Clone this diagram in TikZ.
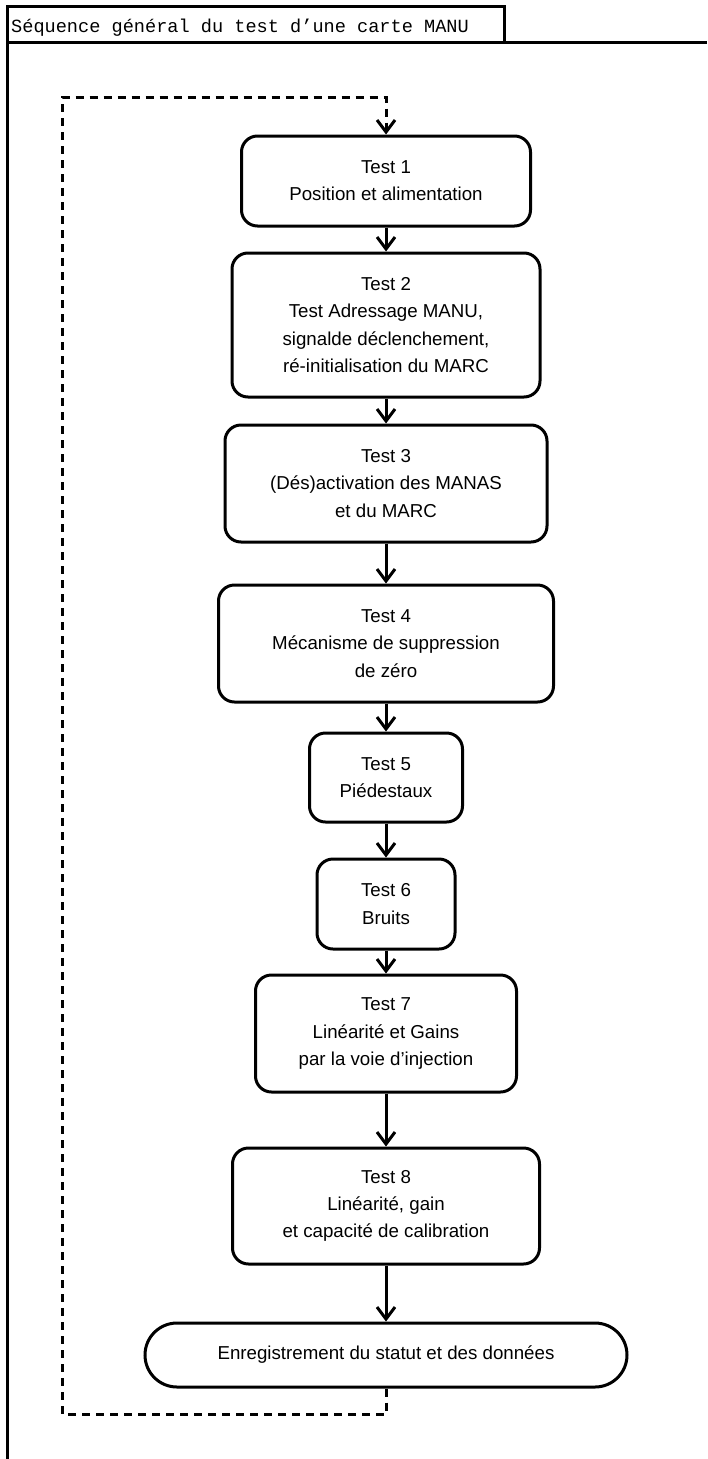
\documentclass[tikz,border=0pt]{standalone}
\usepackage{fontspec}
\setmainfont{Liberation Sans}
\setmonofont{Liberation Mono}
\usetikzlibrary{arrows.meta}
\begin{document}
\begin{tikzpicture}[x=1pt,y=-1pt,
  box/.style={draw, line width=3pt, rounded corners=16pt, align=center, inner sep=0pt,
    font=\fontsize{18.7}{27.3}\selectfont},
  flow/.style={line width=3pt, -{Straight Barb[length=12pt,width=18pt,line width=3pt]}},
  loopline/.style={line width=3pt, dash pattern=on 8pt off 6pt},
  frameline/.style={line width=3pt}]
\useasboundingbox (0,0) rectangle (707,1459);

% frame and title tab
\coordinate (fbl) at (7,1459);
\coordinate (ftl) at (7,6);
\coordinate (ftr) at (504,6);
\coordinate (ftb) at (504,42);
\coordinate (fl) at (7,42);
\coordinate (fr) at (707,42);
\draw[frameline] (fbl) -- (ftl) -- (ftr) -- (ftb);
\draw[frameline] (fl) -- (fr);
\node[anchor=base west, inner sep=0pt, font=\ttfamily\fontsize{18.6}{20}\selectfont] (title) at (11,32)
  {Séquence général du test d’une carte MANU};

% boxes
\node[box, minimum width=289pt, minimum height=90pt] (t1) at (386,181)
  {Test 1\\Position et alimentation};
\node[box, minimum width=308pt, minimum height=144pt] (t2) at (386,325)
  {Test 2\\Test Adressage MANU,\\signalde déclenchement,\\ré-initialisation du MARC};
\node[box, minimum width=322pt, minimum height=117pt] (t3) at (386,483.5)
  {Test 3\\(Dés)activation des MANAS\\et du MARC};
\node[box, minimum width=335pt, minimum height=117pt] (t4) at (386,643.5)
  {Test 4\\Mécanisme de suppression\\de zéro};
\node[box, minimum width=153pt, minimum height=89pt] (t5) at (386,777.5)
  {Test 5\\Piédestaux};
\node[box, minimum width=138pt, minimum height=90pt] (t6) at (386,904)
  {Test 6\\Bruits};
\node[box, minimum width=261pt, minimum height=117pt] (t7) at (386,1033.5)
  {Test 7\\Linéarité et Gains\\par la voie d’injection};
\node[box, minimum width=307pt, minimum height=116pt] (t8) at (386,1206)
  {Test 8\\Linéarité, gain\\et capacité de calibration};
\node[box, rounded corners=32pt, minimum width=482pt, minimum height=64pt] (en) at (386,1355)
  {Enregistrement du statut et des données};

% flow arrows
\draw[flow] (t1) -- (t2);
\draw[flow] (t2) -- (t3);
\draw[flow] (t3) -- (t4);
\draw[flow] (t4) -- (t5);
\draw[flow] (t5) -- (t6);
\draw[flow] (t6) -- (t7);
\draw[flow] (t7) -- (t8);
\draw[flow] (t8) -- (en);

% dashed loop back
\coordinate (lb) at (62,1414);
\coordinate (lt) at (62,97);
\draw[loopline, -{Straight Barb[length=12pt,width=18pt,line width=3pt]}]
  (en.south) |- (lb) -- (lt) -| (t1.north);
\end{tikzpicture}
\end{document}
